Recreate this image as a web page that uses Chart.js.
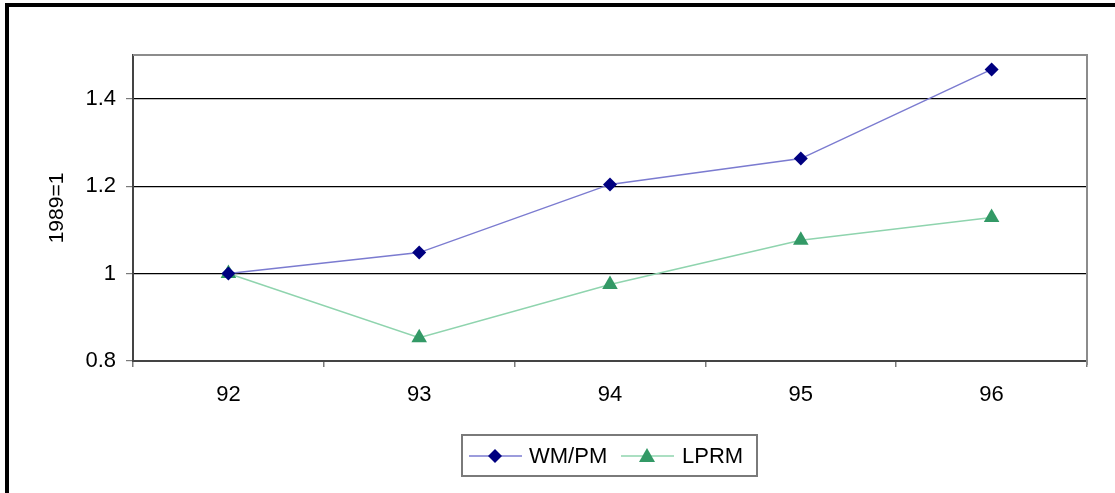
<!DOCTYPE html>
<html>
<head>
<meta charset="utf-8">
<script src="https://cdn.jsdelivr.net/npm/chart.js@4.4.0/dist/chart.umd.min.js"></script>
<style>
  body { margin: 0; background: #fff; }
  #wrap { position: relative; width: 1115px; height: 493px; overflow: hidden; }
  #frame { position: absolute; left: 5px; top: 3px; width: 1200px; height: 600px; border-left: 4px solid #000; border-top: 4px solid #000; }
  #chart { position: absolute; left: 0; top: 0; }
</style>
</head>
<body>
<div id="wrap">
  <div id="frame"></div>
  <canvas id="chart" width="1115" height="493"></canvas>
</div>
<script>
  // data
  const years = ['92', '93', '94', '95', '96'];
  const wmpm = [1.0, 1.048, 1.204, 1.263, 1.467];
  const lprm = [1.0, 0.853, 0.975, 1.076, 1.128];
  const yTicks = [0.8, 1.0, 1.2, 1.4];

  const FONT = 'Liberation Sans, Arial, sans-serif';

  // plot border (top + right) and legend box
  const extras = {
    id: 'extras',
    afterDraw(chart) {
      const ctx = chart.ctx;
      const a = chart.chartArea;
      ctx.save();
      ctx.strokeStyle = '#8c8c8c';
      ctx.lineWidth = 2;
      ctx.beginPath();
      ctx.moveTo(a.left, a.top);
      ctx.lineTo(a.right, a.top);
      ctx.lineTo(a.right, a.bottom + 4);
      ctx.stroke();

      // legend
      ctx.strokeStyle = '#7a7a7a';
      ctx.lineWidth = 2;
      ctx.strokeRect(462, 435, 295, 41);
      const cy = 456;
      ctx.lineWidth = 1.5;
      ctx.strokeStyle = '#7b7bd0';
      ctx.beginPath(); ctx.moveTo(469, cy); ctx.lineTo(522, cy); ctx.stroke();
      ctx.fillStyle = '#000080';
      ctx.beginPath();
      ctx.moveTo(495, cy - 7); ctx.lineTo(502, cy); ctx.lineTo(495, cy + 7); ctx.lineTo(488, cy);
      ctx.closePath(); ctx.fill();
      ctx.strokeStyle = '#8fd4ae';
      ctx.beginPath(); ctx.moveTo(621, cy); ctx.lineTo(674, cy); ctx.stroke();
      ctx.fillStyle = '#339966';
      ctx.beginPath();
      ctx.moveTo(647, cy - 8); ctx.lineTo(655, cy + 6); ctx.lineTo(639, cy + 6);
      ctx.closePath(); ctx.fill();
      ctx.fillStyle = '#000';
      ctx.font = '22px ' + FONT;
      ctx.textBaseline = 'middle';
      ctx.fillText('WM/PM', 529, cy + 1);
      ctx.fillText('LPRM', 682, cy + 1);
      ctx.restore();
    }
  };

  new Chart(document.getElementById('chart'), {
    type: 'line',
    data: {
      labels: years,
      datasets: [
        {
          label: 'WM/PM',
          data: wmpm,
          borderColor: '#7b7bd0',
          borderWidth: 1.5,
          pointStyle: 'rectRot',
          pointRadius: 7,
          pointBackgroundColor: '#000080',
          pointBorderColor: '#000080',
          pointBorderWidth: 0,
          tension: 0
        },
        {
          label: 'LPRM',
          data: lprm,
          borderColor: '#8fd4ae',
          borderWidth: 1.5,
          pointStyle: 'triangle',
          pointRadius: 9,
          pointBackgroundColor: '#339966',
          pointBorderColor: '#339966',
          pointBorderWidth: 0,
          tension: 0
        }
      ]
    },
    options: {
      responsive: false,
      animation: false,
      layout: { padding: { left: 0, top: 55, right: 28, bottom: 0 } },
      plugins: { legend: { display: false }, tooltip: { enabled: false } },
      scales: {
        x: {
          offset: true,
          afterFit(s) { s.height = 132; },
          grid: { offset: true, drawOnChartArea: false, drawTicks: true, tickLength: 6, tickColor: '#7a7a7a', lineWidth: 1.5 },
          border: { display: true, color: '#444', width: 2 },
          ticks: { color: '#000', font: { family: FONT, size: 22 }, padding: 15, maxRotation: 0 }
        },
        y: {
          min: 0.8,
          max: 1.5,
          afterFit(s) { s.width = 133; },
          afterBuildTicks(s) { s.ticks = yTicks.map(v => ({ value: v })); },
          grid: {
            color: c => (c.tick && c.tick.value === 0.8) ? 'rgba(0,0,0,0)' : '#000',
            tickColor: '#7a7a7a',
            tickLength: 7,
            lineWidth: 1.2
          },
          border: { display: true, color: '#444', width: 2 },
          ticks: {
            color: '#000',
            font: { family: FONT, size: 22 },
            padding: 10,
            callback: v => String(v)
          },
          title: {
            display: true,
            text: '1989=1',
            color: '#000',
            font: { family: FONT, size: 21 },
            padding: { top: 45, bottom: 0 }
          }
        }
      }
    },
    plugins: [extras]
  });
</script>
</body>
</html>
